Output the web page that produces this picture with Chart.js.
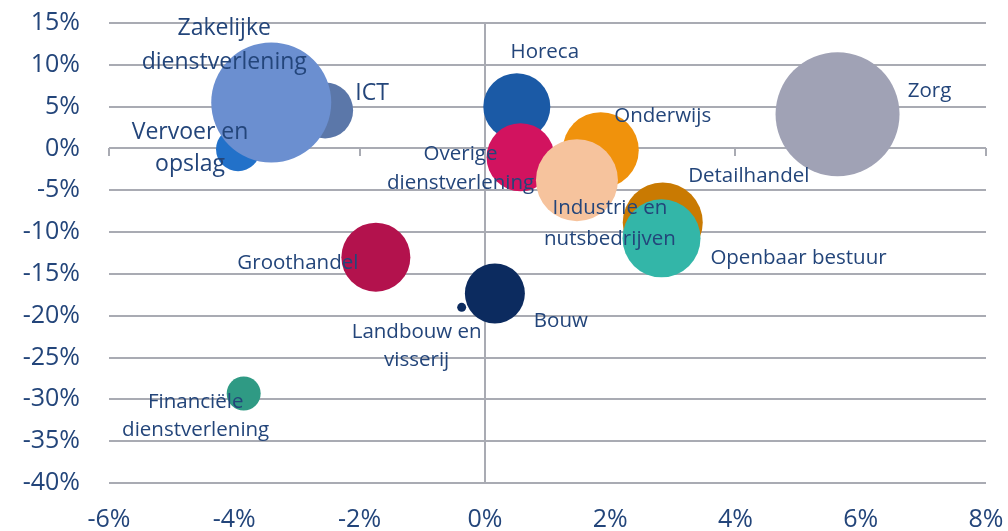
<!DOCTYPE html>
<html><head><meta charset="utf-8">
<script src="https://cdn.jsdelivr.net/npm/chart.js@4.4.1/dist/chart.umd.min.js"></script>
<style>html,body{margin:0;padding:0;background:#fff;} #wrap{width:1008px;height:531px;position:relative;}</style>
</head><body><div id="wrap"><canvas id="c"></canvas></div>
<script>
// ---- data ----
const sectors = [
  ['ICT'],
  ['Vervoer en', 'opslag'],
  ['Zakelijke', 'dienstverlening'],
  ['Horeca'],
  ['Overige', 'dienstverlening'],
  ['Onderwijs'],
  ['Industrie en', 'nutsbedrijven'],
  ['Detailhandel'],
  ['Openbaar bestuur'],
  ['Zorg'],
  ['Groothandel'],
  ['Bouw'],
  ['Landbouw en', 'visserij'],
  ['Financiële', 'dienstverlening']
];
const growthX = [-2.55, -3.94, -3.41, 0.51, 0.57, 1.85, 1.47, 2.84, 2.82, 5.63, -1.74, 0.16, -0.37, -3.85];
const growthY = [4.55, -0.1, 5.5, 5.0, -1.05, -0.2, -3.8, -8.85, -10.75, 4.1, -13.0, -17.35, -19.0, -29.3];
const bubbleSize = [28, 22, 60, 33.5, 34, 38, 41, 40, 39, 62, 34.5, 30, 4.5, 17];
const xTickValues = [-6, -4, -2, 0, 2, 4, 6, 8];
const yTickValues = [15, 10, 5, 0, -5, -10, -15, -20, -25, -30, -35, -40];

// ---- styles ----
const colors = ['#5b77a9', '#2271c9', '#6b8fd0', '#1b5aa6', '#d2135f', '#f0920c', '#f6c39d',
  '#c97a02', '#33b6a8', '#a0a2b5', '#b3124d', '#0c2b5f', '#0c2b5f', '#2f9a84'];
const textColor = '#23457a';
const gridColor = '#a9abb3';
const FONT = '"Open Sans", "Noto Sans", sans-serif';
// label placement relative to bubble centre: dx, dy (first line), font size, line height
const labelLayout = [
  {dx: 47, dy: -17, size: 23, lh: 33},
  {dx: -48, dy: -17, size: 23, lh: 32},
  {dx: -47, dy: -74, size: 23, lh: 34},
  {dx: 28, dy: -54, size: 20.5, lh: 29},
  {dx: -60, dy: -3, size: 20.5, lh: 29},
  {dx: 62, dy: -34, size: 20.5, lh: 29},
  {dx: 33, dy: 28, size: 20.5, lh: 31},
  {dx: 86, dy: -46, size: 20.5, lh: 29},
  {dx: 137, dy: 20, size: 20.5, lh: 29},
  {dx: 92, dy: -23, size: 20.5, lh: 29},
  {dx: -78, dy: 6, size: 20.5, lh: 29},
  {dx: 66, dy: 28, size: 20.5, lh: 29},
  {dx: -45, dy: 25, size: 20.5, lh: 28},
  {dx: -48, dy: 9, size: 20.5, lh: 28}
];

const points = growthX.map((x, i) => ({x: x, y: growthY[i], r: bubbleSize[i]}));

// small tick marks hanging under the 0% line, placed through the x scale
const zeroTicksPlugin = {
  id: 'zeroTicks',
  beforeDatasetsDraw(chart) {
    const {ctx, scales} = chart;
    const y0 = Math.round(scales.y.getPixelForValue(0));
    ctx.save();
    ctx.strokeStyle = gridColor;
    ctx.lineWidth = 2;
    xTickValues.forEach(v => {
      const px = Math.round(scales.x.getPixelForValue(v));
      ctx.beginPath();
      ctx.moveTo(px, y0);
      ctx.lineTo(px, y0 + 8);
      ctx.stroke();
    });
    ctx.restore();
  }
};

const labelPlugin = {
  id: 'bubbleLabels',
  afterDatasetsDraw(chart) {
    const meta = chart.getDatasetMeta(0);
    const ctx = chart.ctx;
    ctx.save();
    ctx.fillStyle = textColor;
    ctx.textAlign = 'center';
    ctx.textBaseline = 'middle';
    meta.data.forEach((el, i) => {
      const lay = labelLayout[i];
      ctx.font = lay.size + 'px ' + FONT;
      sectors[i].forEach((ln, k) => {
        ctx.fillText(ln, el.x + lay.dx, el.y + lay.dy + k * lay.lh);
      });
    });
    ctx.restore();
  }
};

new Chart(document.getElementById('c'), {
  type: 'bubble',
  data: {
    datasets: [{
      data: points,
      backgroundColor: colors,
      borderWidth: 0,
      hoverBorderWidth: 0,
      clip: false
    }]
  },
  options: {
    responsive: true,
    maintainAspectRatio: false,
    animation: false,
    events: [],
    layout: {autoPadding: false, padding: {top: 23, right: 22, left: 0, bottom: 0}},
    plugins: {legend: {display: false}, tooltip: {enabled: false}},
    scales: {
      x: {
        type: 'linear', min: -6, max: 8,
        afterBuildTicks: s => { s.ticks = xTickValues.map(v => ({value: v})); },
        ticks: {color: textColor, font: {family: FONT, size: 25}, padding: 22,
          callback: v => v + '%', maxRotation: 0},
        grid: {
          color: c => (c.tick && c.tick.value === 0) ? gridColor : 'rgba(0,0,0,0)',
          lineWidth: 2, drawTicks: false
        },
        border: {display: false},
        afterFit: s => { s.height = 48; s.paddingLeft = 0; s.paddingRight = 0; }
      },
      y: {
        type: 'linear', min: -40, max: 15,
        afterBuildTicks: s => { s.ticks = yTickValues.map(v => ({value: v})); },
        ticks: {color: textColor, font: {family: FONT, size: 25}, padding: 29,
          callback: v => v + '%'},
        grid: {color: gridColor, lineWidth: 2, drawTicks: false},
        border: {display: false},
        afterFit: s => { s.width = 109; s.paddingTop = 0; s.paddingBottom = 0; }
      }
    }
  },
  plugins: [zeroTicksPlugin, labelPlugin]
});
</script>
</body></html>
